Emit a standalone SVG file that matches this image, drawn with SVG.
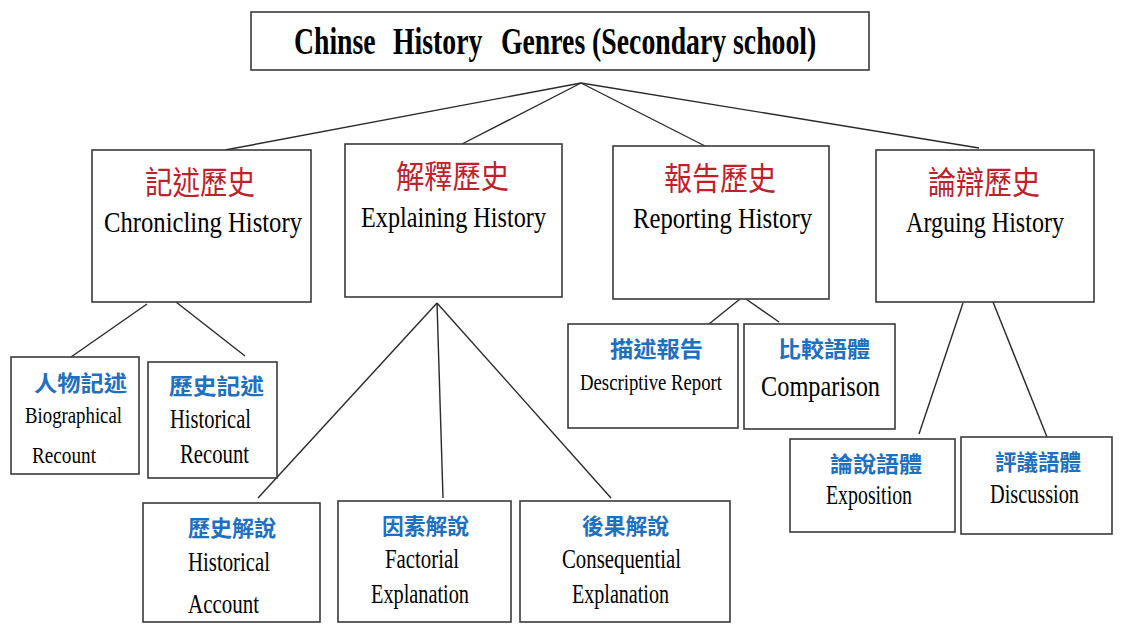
<svg xmlns="http://www.w3.org/2000/svg" width="1125" height="631" viewBox="0 0 1125 631">
<style>
.box{fill:#fff;stroke:#3a3a3a;stroke-width:1.6}
.ln{stroke:#2a2a2a;stroke-width:1.4;fill:none}
.title{font-family:"Liberation Serif",serif;font-weight:bold;font-size:38px;fill:#000}
.en{font-family:"Liberation Serif",serif;fill:#000}
.cr{font-family:"Noto Sans CJK TC","Noto Sans CJK SC",sans-serif;font-size:32px;fill:#c0202a}
.cb{font-family:"Noto Sans CJK TC","Noto Sans CJK SC",sans-serif;font-size:22px;fill:#1e70c0;font-weight:bold}
</style>
<rect width="1125" height="631" fill="#fff"/>
<g id="connectors">
<line class="ln" x1="581" y1="83" x2="225" y2="150"/>
<line class="ln" x1="581" y1="83" x2="462" y2="144"/>
<line class="ln" x1="581" y1="83" x2="705" y2="146"/>
<line class="ln" x1="581" y1="83" x2="979" y2="148"/>
<line class="ln" x1="147" y1="304" x2="71" y2="357"/>
<line class="ln" x1="176" y1="302" x2="245" y2="356"/>
<line class="ln" x1="437" y1="303" x2="258" y2="498"/>
<line class="ln" x1="437" y1="303" x2="443" y2="498"/>
<line class="ln" x1="437" y1="303" x2="611" y2="498"/>
<line class="ln" x1="740" y1="299" x2="709" y2="324"/>
<line class="ln" x1="746" y1="299" x2="779" y2="322"/>
<line class="ln" x1="963" y1="303" x2="919" y2="434"/>
<line class="ln" x1="993" y1="302" x2="1047" y2="437"/>
</g>
<g id="root">
<rect class="box" x="251" y="12" width="618" height="58"/>
<text class="title" y="54" transform="scale(0.73,1)"><tspan x="402.7">Chinse</tspan><tspan x="538.4">History</tspan><tspan x="686.3">Genres (Secondary school)</tspan></text>
</g>
<g id="chronicling">
<rect class="box" x="92" y="150" width="219" height="152"/>
<text class="cr" x="145" y="194" textLength="110" lengthAdjust="spacingAndGlyphs">記述歷史</text>
<text class="en" x="104" y="232" font-size="30" textLength="198" lengthAdjust="spacingAndGlyphs">Chronicling History</text>
</g>
<g id="explaining">
<rect class="box" x="345" y="144" width="217" height="153"/>
<text class="cr" x="396" y="188" textLength="113" lengthAdjust="spacingAndGlyphs">解釋歷史</text>
<text class="en" x="361" y="227" font-size="30" textLength="185" lengthAdjust="spacingAndGlyphs">Explaining History</text>
</g>
<g id="reporting">
<rect class="box" x="613" y="146" width="216" height="153"/>
<text class="cr" x="664" y="190" textLength="112" lengthAdjust="spacingAndGlyphs">報告歷史</text>
<text class="en" x="633" y="228" font-size="30" textLength="179" lengthAdjust="spacingAndGlyphs">Reporting History</text>
</g>
<g id="arguing">
<rect class="box" x="876" y="150" width="218" height="152"/>
<text class="cr" x="928" y="194" textLength="112" lengthAdjust="spacingAndGlyphs">論辯歷史</text>
<text class="en" x="906" y="232" font-size="30" textLength="158" lengthAdjust="spacingAndGlyphs">Arguing History</text>
</g>
<g id="biographical">
<rect class="box" x="11" y="357" width="128" height="117"/>
<text class="cb" x="34" y="391" textLength="93" lengthAdjust="spacingAndGlyphs">人物記述</text>
<text class="en" x="25" y="423" font-size="24" textLength="97" lengthAdjust="spacingAndGlyphs">Biographical</text>
<text class="en" x="32" y="463" font-size="24" textLength="64" lengthAdjust="spacingAndGlyphs">Recount</text>
</g>
<g id="historical-recount">
<rect class="box" x="148" y="362" width="129" height="116"/>
<text class="cb" x="169" y="394" textLength="95" lengthAdjust="spacingAndGlyphs">歷史記述</text>
<text class="en" x="170" y="428" font-size="27" textLength="81" lengthAdjust="spacingAndGlyphs">Historical</text>
<text class="en" x="180" y="463" font-size="27" textLength="69" lengthAdjust="spacingAndGlyphs">Recount</text>
</g>
<g id="historical-account">
<rect class="box" x="143" y="503" width="177" height="119"/>
<text class="cb" x="188" y="536" textLength="88" lengthAdjust="spacingAndGlyphs">歷史解說</text>
<text class="en" x="188" y="571" font-size="27" textLength="82" lengthAdjust="spacingAndGlyphs">Historical</text>
<text class="en" x="188" y="613" font-size="27" textLength="71" lengthAdjust="spacingAndGlyphs">Account</text>
</g>
<g id="factorial">
<rect class="box" x="338" y="501" width="173" height="121"/>
<text class="cb" x="382" y="534" textLength="87" lengthAdjust="spacingAndGlyphs">因素解說</text>
<text class="en" x="385" y="568" font-size="27" textLength="74" lengthAdjust="spacingAndGlyphs">Factorial</text>
<text class="en" x="371" y="603" font-size="27" textLength="98" lengthAdjust="spacingAndGlyphs">Explanation</text>
</g>
<g id="consequential">
<rect class="box" x="520" y="501" width="210" height="121"/>
<text class="cb" x="582" y="534" textLength="87" lengthAdjust="spacingAndGlyphs">後果解說</text>
<text class="en" x="562" y="568" font-size="27" textLength="119" lengthAdjust="spacingAndGlyphs">Consequential</text>
<text class="en" x="572" y="603" font-size="27" textLength="97" lengthAdjust="spacingAndGlyphs">Explanation</text>
</g>
<g id="descriptive">
<rect class="box" x="568" y="324" width="170" height="104"/>
<text class="cb" x="610" y="357" textLength="93" lengthAdjust="spacingAndGlyphs">描述報告</text>
<text class="en" x="580" y="390" font-size="24" textLength="142" lengthAdjust="spacingAndGlyphs">Descriptive Report</text>
</g>
<g id="comparison">
<rect class="box" x="744" y="324" width="151" height="105"/>
<text class="cb" x="778" y="357" textLength="92" lengthAdjust="spacingAndGlyphs">比較語體</text>
<text class="en" x="761" y="396" font-size="30" textLength="119" lengthAdjust="spacingAndGlyphs">Comparison</text>
</g>
<g id="exposition">
<rect class="box" x="790" y="439" width="165" height="93"/>
<text class="cb" x="830" y="472" textLength="92" lengthAdjust="spacingAndGlyphs">論說語體</text>
<text class="en" x="826" y="504" font-size="27" textLength="86" lengthAdjust="spacingAndGlyphs">Exposition</text>
</g>
<g id="discussion">
<rect class="box" x="961" y="437" width="151" height="97"/>
<text class="cb" x="995" y="470" textLength="86" lengthAdjust="spacingAndGlyphs">評議語體</text>
<text class="en" x="990" y="503" font-size="27" textLength="89" lengthAdjust="spacingAndGlyphs">Discussion</text>
</g>
</svg>
